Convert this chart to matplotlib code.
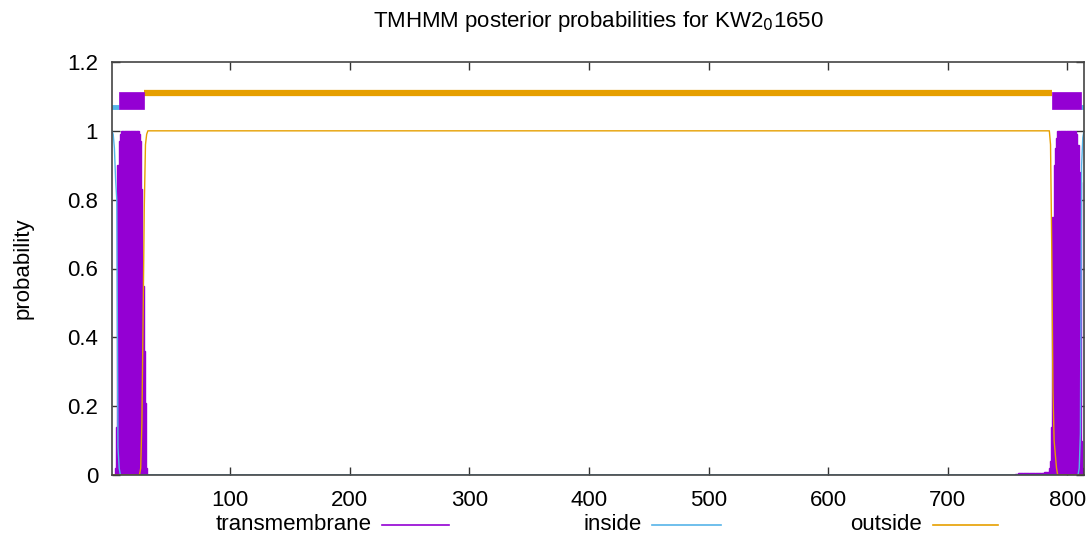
import matplotlib
matplotlib.use("Agg")
import matplotlib.pyplot as plt
from matplotlib.lines import Line2D
from matplotlib.patches import Rectangle

plt.rcParams["font.family"] = ["Liberation Sans", "DejaVu Sans"]

SEQ_LEN = 814
TITLE = "TMHMM posterior probabilities for KW2$_0$1650"

# predicted topology (first residue, last residue)
inside_segs = [(1, 6), (812, 814)]
tm_segs = [(7, 27), (788, 811)]
outside_segs = [(28, 787)]

# transmembrane posterior (residues not listed are 0)
tm_res = [4, 5, 6, 7, 8, 9, 10, 11, 12, 13, 14, 15, 16, 17, 18, 19, 20, 21, 22, 23,
          24, 25, 26, 27, 28, 29, 30,
          757, 758, 759, 760, 761, 762, 763, 764, 765, 766, 767, 768, 769, 770, 771,
          772, 773, 774, 775, 776, 777, 778, 779, 780, 781, 782, 783, 784, 785,
          786, 787, 788, 789, 790, 791, 792, 793, 794, 795, 796, 797, 798, 799, 800,
          801, 802, 803, 804, 805, 806, 807, 808, 809, 810, 811, 812, 813]
tm_prob = [0.02, 0.14, 0.90, 0.97, 0.99, 1.0, 1.0, 1.0, 1.0, 1.0, 1.0, 1.0, 1.0, 1.0,
           1.0, 1.0, 1.0, 1.0, 1.0, 1.0,
           0.99, 0.97, 0.83, 0.55, 0.36, 0.21, 0.02,
           0.004, 0.004, 0.005, 0.005, 0.005, 0.005, 0.005, 0.005, 0.005, 0.005, 0.006,
           0.006, 0.006, 0.006, 0.006, 0.006, 0.006, 0.006, 0.007, 0.007, 0.007, 0.007,
           0.007, 0.007, 0.008, 0.008, 0.008, 0.01, 0.02,
           0.04, 0.14, 0.75, 0.90, 0.95, 0.98, 1.0, 1.0, 1.0, 1.0, 1.0, 1.0, 1.0, 1.0,
           1.0, 1.0, 1.0, 1.0, 1.0, 1.0, 1.0, 1.0, 0.99, 0.96, 0.88, 0.85, 0.10, 0.02]

# inside posterior
in_res = [1, 2, 3, 4, 5, 6, 7, 8, 809, 810, 811, 812, 813, 814]
in_prob = [1.0, 0.99, 0.95, 0.86, 0.80, 0.08, 0.02, 0.0,
           0.0, 0.02, 0.12, 0.90, 0.98, 1.0]

# outside posterior
out_res = [1, 24, 25, 26, 27, 28, 29, 30, 31,
           785, 786, 787, 788, 789, 790, 791, 792, 814]
out_prob = [0.0, 0.0, 0.02, 0.15, 0.45, 0.78, 0.96, 0.99, 1.0,
            1.0, 0.96, 0.67, 0.25, 0.10, 0.06, 0.02, 0.0, 0.0]

C_TM = "#9400d3"
C_IN = "#56b4e9"
C_OUT = "#e69f00"
FS = 16

fig = plt.figure(figsize=(10.92, 5.37), dpi=100)
ax = fig.add_axes([112 / 1092, 1 - 475 / 537, (1084 - 112) / 1092, (475 - 62) / 537])

# posterior curves (tm drawn as impulses, one bar per residue)
ax.bar(tm_res, tm_prob, width=1.0, color=C_TM, edgecolor=C_TM, lw=1.0, zorder=2)
ax.plot(in_res, in_prob, color=C_IN, lw=1.0, zorder=3)
ax.plot(out_res, out_prob, color=C_OUT, lw=1.0, zorder=3)

# topology bars along the top
for s, e in outside_segs:
    ax.plot([s - 0.5, e + 0.5], [1.11, 1.11], color=C_OUT, lw=4.5,
            solid_capstyle="butt", zorder=3)
for s, e in inside_segs:
    ax.plot([s - 0.5, e + 0.5], [1.07, 1.07], color=C_IN, lw=3.5,
            solid_capstyle="butt", zorder=3)
for s, e in tm_segs:
    ax.add_patch(Rectangle((s - 0.5, 1.063), e - s + 1, 0.051,
                           facecolor=C_TM, edgecolor=C_TM, lw=0.5, zorder=4))

ax.set_xlim(1, SEQ_LEN)
ax.set_ylim(0, 1.2)
ax.set_xticks([100, 200, 300, 400, 500, 600, 700, 800])
ax.set_yticks([0, 0.2, 0.4, 0.6, 0.8, 1.0, 1.2])
ax.set_yticklabels(["0", "0.2", "0.4", "0.6", "0.8", "1", "1.2"])
ax.tick_params(direction="in", top=True, right=True, length=6, width=1,
               labelsize=FS, color="#333333")
ax.tick_params(axis="x", pad=11)
ax.tick_params(axis="y", pad=10)
for sp in ax.spines.values():
    sp.set_color("#444444")
    sp.set_linewidth(1.2)
    sp.set_zorder(5)

ax.set_ylabel("probability", fontsize=FS, labelpad=24)
fig.text(598 / 1092, 1 - 22 / 537, TITLE, ha="center", va="center", fontsize=FS)

# legend row below the axis
legend_items = [("transmembrane", C_TM, 372, 382, 449),
                ("inside", C_IN, 642, 652, 721),
                ("outside", C_OUT, 922, 933, 998)]
ly = 1 - 525 / 537
for label, col, tx, x0, x1 in legend_items:
    fig.text(tx / 1092, ly, label, ha="right", va="center", fontsize=FS)
    fig.add_artist(Line2D([x0 / 1092, x1 / 1092], [ly, ly], color=col, lw=1.2))

fig.savefig("out.png", dpi=100)
